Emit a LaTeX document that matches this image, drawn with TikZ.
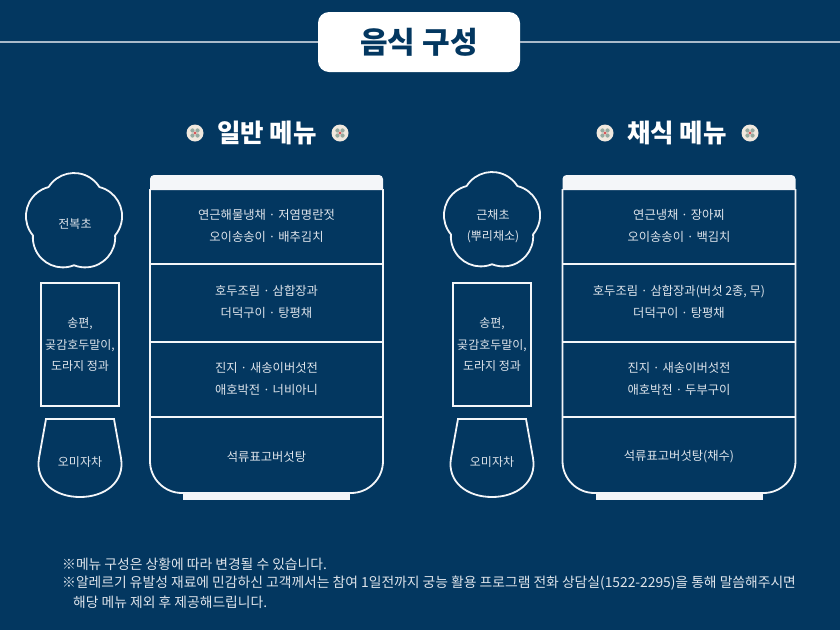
\documentclass[tikz,border=0pt]{standalone}
\usepackage{fontspec}
\setmainfont{Noto Sans CJK KR}
\definecolor{navy}{RGB}{3,55,96}
\definecolor{linec}{RGB}{244,246,249}
\definecolor{txtc}{RGB}{222,228,235}
\definecolor{tline}{RGB}{170,186,202}
\definecolor{ornbg}{RGB}{240,232,222}
\definecolor{orngreen}{RGB}{150,170,160}
\definecolor{ornred}{RGB}{215,90,90}
\tikzset{
  outl/.style={draw=linec, line width=1.8pt},
  itemtext/.style={text=txtc, font=\fontsize{12.3}{22}\selectfont, align=center, inner sep=0pt},
  sidetext/.style={text=txtc, font=\fontsize{12}{21.5}\selectfont, align=center, inner sep=0pt},
  notetext/.style={text=txtc, font=\fontsize{13.8}{18}\selectfont, anchor=west, inner sep=0pt},
  sechead/.style={text=white, font=\bfseries\fontsize{25.5}{25.5}\selectfont, inner sep=0pt},
  ornament/.pic={
    \fill[ornbg] (0,0) circle[radius=8.5];
    \foreach \a in {45,135,225,315} \fill[orngreen] (\a:3.6) circle[radius=2.1];
    \fill[ornred] (0,0) circle[radius=1.6];
  },
  flower/.pic={
    \draw[outl, line join=round] (234:43.2) \foreach \k in {0,...,4} { arc[start angle={212.13+72*\k}, end angle={327.87+72*\k}, radius=30] } -- cycle;
  },
  cup/.pic={
    \draw[outl] (-34,0) -- (34,0) -- (41,39) .. controls (45,63) and (25,78) .. (0,78) .. controls (-25,78) and (-45,63) .. (-41,39) -- cycle;
  },
  bowl/.pic={
    \fill[linec] (-116.5,15) {[rounded corners=4pt] -- (-116.5,0) -- (116.5,0)} -- (116.5,15) -- cycle;
    \draw[outl, rounded corners=32pt] (-116.5,14) -- (-116.5,318) -- (116.5,318) -- (116.5,14);
    \fill[linec] (-83.5,317) rectangle (83.5,325);
    \draw[outl] (-116.5,89) -- (116.5,89);
    \draw[outl] (-116.5,167) -- (116.5,167);
    \draw[outl] (-116.5,242) -- (116.5,242);
  }
}
\begin{document}
\begin{tikzpicture}[x=1pt,y=-1pt]
\useasboundingbox[fill=navy] (0,0) rectangle (840,630);

% title
\node[fill=white, rounded corners=11pt, minimum width=202pt, minimum height=60pt, text=navy,
      font=\bfseries\fontsize{30}{30}\selectfont] (title) at (419,42) {음식 구성};
\coordinate (tl) at (0,42);
\coordinate (tr) at (840,42);
\draw[tline, line width=1.5pt] (tl) -- (title.west);
\draw[tline, line width=1.5pt] (title.east) -- (tr);

% section headings
\node[sechead] (h1) at (267,133) {일반 메뉴};
\node[sechead] (h2) at (677,133) {채식 메뉴};
\pic at (195,133) {ornament};
\pic at (340,133) {ornament};
\pic at (605,133) {ornament};
\pic at (750,133) {ornament};

% ---------- left set ----------
\pic at (74,222) {flower};
\node[sidetext] (f1) at (75,224) {전복초};
\draw[outl] (41,283) rectangle (119,406);
\node[sidetext] (r1) at (80,345) {송편,\\곶감호두말이,\\도라지 정과};
\pic at (80,419) {cup};
\node[sidetext] (c1) at (80,462) {오미자차};

\pic at (266.5,175) {bowl};
\node[itemtext] (a1) at (266.5,226) {연근해물냉채 · 저염명란젓\\오이송송이 · 배추김치};
\node[itemtext] (a2) at (266.5,302) {호두조림 · 삼합장과\\더덕구이 · 탕평채};
\node[itemtext] (a3) at (266.5,379) {진지 · 새송이버섯전\\애호박전 · 너비아니};
\node[itemtext] (a4) at (266.5,457) {석류표고버섯탕};

% ---------- right set ----------
\pic at (492,221) {flower};
\node[sidetext] (f2) at (493,226) {근채초\\(뿌리채소)};
\draw[outl] (453,283) rectangle (531,406);
\node[sidetext] (r2) at (492,345) {송편,\\곶감호두말이,\\도라지 정과};
\pic at (492,419) {cup};
\node[sidetext] (c2) at (492,462) {오미자차};

\pic at (679,175) {bowl};
\node[itemtext] (b1) at (679,226) {연근냉채 · 장아찌\\오이송송이 · 백김치};
\node[itemtext] (b2) at (679,302) {호두조림 · 삼합장과(버섯 2종, 무)\\더덕구이 · 탕평채};
\node[itemtext] (b3) at (679,379) {진지 · 새송이버섯전\\애호박전 · 두부구이};
\node[itemtext] (b4) at (679,457) {석류표고버섯탕(채수)};

% notes
\node[notetext] (n1) at (62,564) {※메뉴 구성은 상황에 따라 변경될 수 있습니다.};
\node[notetext] (n2) at (62,583) {※알레르기 유발성 재료에 민감하신 고객께서는 참여 1일전까지 궁능 활용 프로그램 전화 상담실(1522-2295)을 통해 말씀해주시면};
\node[notetext] (n3) at (73,602) {해당 메뉴 제외 후 제공해드립니다.};
\end{tikzpicture}
\end{document}
